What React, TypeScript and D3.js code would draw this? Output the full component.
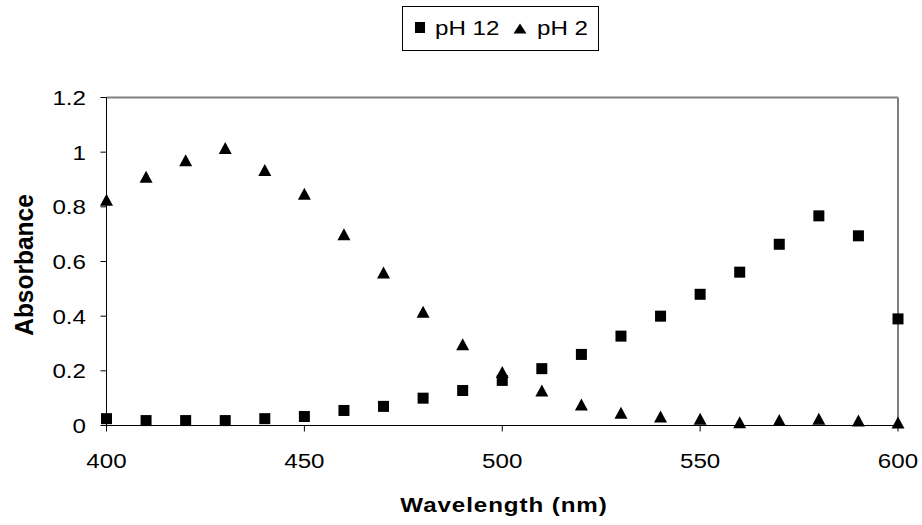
import React from "react";
import * as d3 from "d3";

const wavelengths = [400, 410, 420, 430, 440, 450, 460, 470, 480, 490, 500, 510, 520, 530, 540, 550, 560, 570, 580, 590, 600];
const pH12 = [0.025, 0.018, 0.018, 0.018, 0.025, 0.033, 0.055, 0.07, 0.1, 0.128, 0.165, 0.208, 0.26, 0.327, 0.4, 0.48, 0.561, 0.663, 0.767, 0.694, 0.39];
const pH2 = [0.826, 0.91, 0.97, 1.015, 0.935, 0.848, 0.7, 0.56, 0.416, 0.297, 0.196, 0.128, 0.077, 0.047, 0.033, 0.025, 0.012, 0.02, 0.025, 0.018, 0.011];
const xTicks = [400, 450, 500, 550, 600];
const yTicks = [0, 0.2, 0.4, 0.6, 0.8, 1, 1.2];
const seriesNames = ["pH 12", "pH 2"];

const W = 922;
const H = 525;
const FONT = "Arial, 'Liberation Sans', sans-serif";

export default function App() {
  const x = d3.scaleLinear().domain([400, 600]).range([106.5, 898]);
  const y = d3.scaleLinear().domain([0, 1.2]).range([425.5, 97.5]);
  const sq = 11;
  const triW = 13;
  const triH = 12;
  const tri = (cx: number, cy: number, w: number, h: number) =>
    `M${cx},${cy - h / 2}L${cx + w / 2},${cy + h / 2}L${cx - w / 2},${cy + h / 2}Z`;
  const sx = 1.15;

  return (
    <svg width={W} height={H} style={{ position: "absolute", left: 0, top: 0, background: "#fff" }}>
      <rect x={0} y={0} width={W} height={H} fill="#fff" />
      {/* frame */}
      <line x1={x(400)} x2={x(600)} y1={y(1.2)} y2={y(1.2)} stroke="#808080" strokeWidth={2} />
      <line x1={x(600)} x2={x(600)} y1={y(1.2)} y2={y(0)} stroke="#808080" strokeWidth={2} />
      <line x1={x(400)} x2={x(400)} y1={y(1.2)} y2={y(0)} stroke="#000" strokeWidth={1} />
      <line x1={x(400)} x2={x(600)} y1={y(0)} y2={y(0)} stroke="#000" strokeWidth={1} />
      {/* y ticks */}
      {yTicks.map((t) => (
        <g key={"y" + t}>
          <line x1={x(400) - 6} x2={x(400)} y1={y(t)} y2={y(t)} stroke="#000" />
          <text
            transform={`translate(86,${y(t) + 7.5}) scale(${sx},1)`}
            textAnchor="end"
            fontFamily={FONT}
            fontSize={21}
            fill="#000"
          >
            {String(t)}
          </text>
        </g>
      ))}
      {/* x ticks */}
      {xTicks.map((t) => (
        <g key={"x" + t}>
          <line x1={x(t)} x2={x(t)} y1={y(0)} y2={y(0) + 6} stroke="#000" />
          <text
            transform={`translate(${x(t)},468) scale(${sx},1)`}
            textAnchor="middle"
            fontFamily={FONT}
            fontSize={21}
            fill="#000"
          >
            {String(t)}
          </text>
        </g>
      ))}
      {/* axis titles */}
      <text
        transform={`translate(504,512) scale(${sx},1)`}
        textAnchor="middle"
        fontFamily={FONT}
        fontSize={21}
        fontWeight="bold"
        letterSpacing={0.8}
        fill="#000"
      >
        Wavelength (nm)
      </text>
      <text
        transform={`translate(33,265) rotate(-90) scale(1,1.05)`}
        textAnchor="middle"
        fontFamily={FONT}
        fontSize={24.5}
        fontWeight="bold"
        fill="#000"
      >
        Absorbance
      </text>
      {/* data */}
      {wavelengths.map((w, i) => (
        <rect key={"s" + i} x={x(w) - sq / 2} y={y(pH12[i]) - sq / 2} width={sq} height={sq} fill="#000" />
      ))}
      {wavelengths.map((w, i) => (
        <path key={"t" + i} d={tri(x(w), y(pH2[i]), triW, triH)} fill="#000" />
      ))}
      {/* legend */}
      <rect x={402.5} y={6.5} width={196} height={44} fill="#fff" stroke="#000" strokeWidth={1} />
      <rect x={415} y={22} width={10} height={11} fill="#000" />
      <text transform={`translate(435,35) scale(${sx},1)`} fontFamily={FONT} fontSize={21} fill="#000">
        {seriesNames[0]}
      </text>
      <path d={tri(520, 28.5, 13, 10)} fill="#000" />
      <text transform={`translate(537,35) scale(${sx},1)`} fontFamily={FONT} fontSize={21} fill="#000">
        {seriesNames[1]}
      </text>
    </svg>
  );
}
